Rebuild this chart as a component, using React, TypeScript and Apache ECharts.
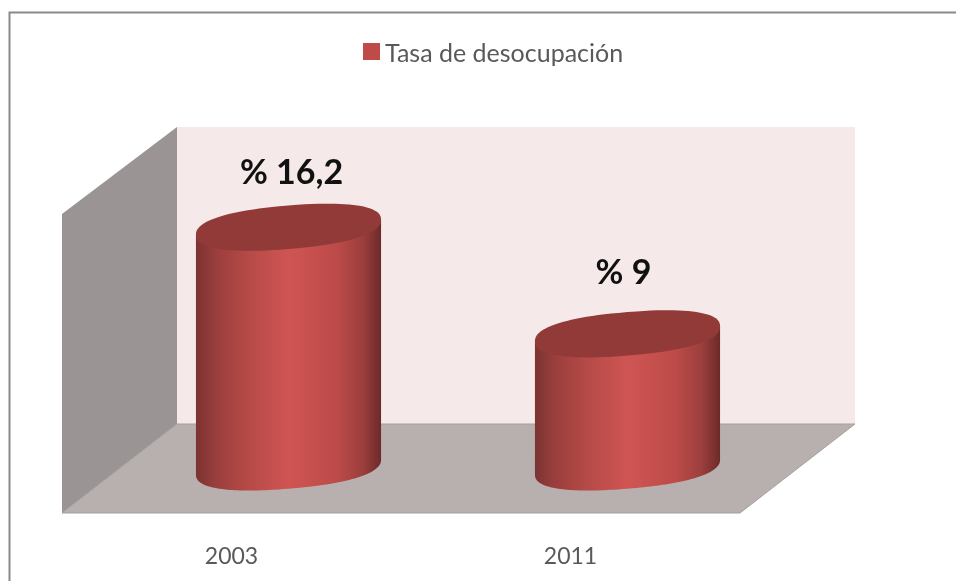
import React, { useEffect, useRef } from "react";
import * as echarts from "echarts";

const categories = ["2003", "2011"];
const values = [16.2, 9];
const seriesName = "Tasa de desocupación";

const FONT = "Lato, 'Open Sans', sans-serif";
const RED = "#be4b48";
const DEPTH_X = 57;
const DEPTH_Y = -46;
const labelNudge = [[3, -2], [-4, -8]];
const ROUNDNESS = 0.85;

function ellipsePoints(cx: number, cy: number, a: number, b: number, k: number, from: number, to: number) {
  const pts: number[][] = [];
  const n = 96;
  const pow = (u: number) => Math.sign(u) * Math.pow(Math.abs(u), ROUNDNESS);
  for (let i = 0; i <= n; i++) {
    const t = from + ((to - from) * i) / n;
    const c = pow(Math.cos(t));
    const s = pow(Math.sin(t));
    pts.push([cx + a * c, cy + b * s + k * c]);
  }
  return pts;
}

const renderItem = (_p: any, api: any) => {
  const idx = api.value(0);
  const v = api.value(1);
  const base = api.coord([idx, 0]);
  const top = api.coord([idx, v]);
  const a = (api.size([1, 0])[0] * 0.546) / 2;
  const b = 21.7;
  const k = -7.5;
  const cx = base[0] + DEPTH_X;
  const by = base[1] + DEPTH_Y;
  const ty = top[1] + DEPTH_Y;
  const bottomFront = ellipsePoints(cx, by, a, b, k, 0, Math.PI);
  const body = [[cx + a, ty + k], ...bottomFront, [cx - a, ty - k]];
  const [nx, ny] = labelNudge[idx];
  return {
    type: "group",
    children: [
      {
        type: "polygon",
        shape: { points: body },
        style: {
          fill: new echarts.graphic.LinearGradient(0, 0, 1, 0, [
            { offset: 0, color: "#7b3331" },
            { offset: 0.1, color: "#983e3c" },
            { offset: 0.28, color: "#b54a47" },
            { offset: 0.5, color: "#cf5553" },
            { offset: 0.76, color: "#bd4b49" },
            { offset: 0.9, color: "#9c3f3d" },
            { offset: 1, color: "#6c2a29" },
          ]),
        },
      },
      {
        type: "polygon",
        shape: { points: ellipsePoints(cx, ty, a, b, k, 0, Math.PI * 2) },
        style: { fill: "#913a37" },
      },
      {
        type: "text",
        style: {
          text: `% ${String(v).replace(".", ",")}`,
          x: cx + nx,
          y: ty - 55 + ny,
          align: "center",
          verticalAlign: "middle",
          font: `bold 34px ${FONT}`,
          fill: "#111111",
        },
      },
    ],
  };
};

export default function App() {
  const ref = useRef<HTMLDivElement>(null);
  useEffect(() => {
    const chart = echarts.init(ref.current!, undefined, { renderer: "svg" });
    chart.setOption({
      animation: false,
      backgroundColor: "#ffffff",
      graphic: [
        { type: "polyline", shape: { points: [[9.5, 581], [9.5, 12.5], [956, 12.5]] }, style: { stroke: "#8a8a8a", lineWidth: 2, fill: "none" } },
        { type: "polygon", shape: { points: [[177, 127], [855, 127], [855, 424], [177, 424]] }, style: { fill: "#f5e9e9" } },
        { type: "polygon", shape: { points: [[62, 214], [177, 127], [177, 424], [62, 513]] }, style: { fill: "#9a9494" } },
        { type: "polygon", shape: { points: [[177, 424], [855, 424], [740, 513], [62, 513]] }, style: { fill: "#b8b0af", stroke: "#a5a09f", lineWidth: 1 } },
      ],
      legend: {
        left: 358,
        top: 34,
        icon: "rect",
        itemWidth: 17,
        itemHeight: 17,
        itemGap: 6,
        data: [seriesName],
        textStyle: { fontFamily: FONT, fontSize: 25, color: "#595959" },
      },
      grid: { left: 62, width: 678, top: 217, height: 296 },
      xAxis: {
        type: "category",
        data: categories,
        axisLine: { show: false },
        axisTick: { show: false },
        axisLabel: { fontFamily: FONT, fontSize: 23, color: "#595959", margin: 30 },
      },
      yAxis: { type: "value", min: 0, max: 20, show: false },
      series: [
        {
          type: "custom",
          name: seriesName,
          renderItem,
          clip: false,
          itemStyle: { color: RED },
          encode: { x: 0, y: 1 },
          data: values.map((v, i) => [i, v]),
        },
      ],
    });
    return () => chart.dispose();
  }, []);
  return <div ref={ref} style={{ position: "absolute", left: 0, top: 0, width: 956, height: 581, filter: "blur(0.5px)" }} />;
}
